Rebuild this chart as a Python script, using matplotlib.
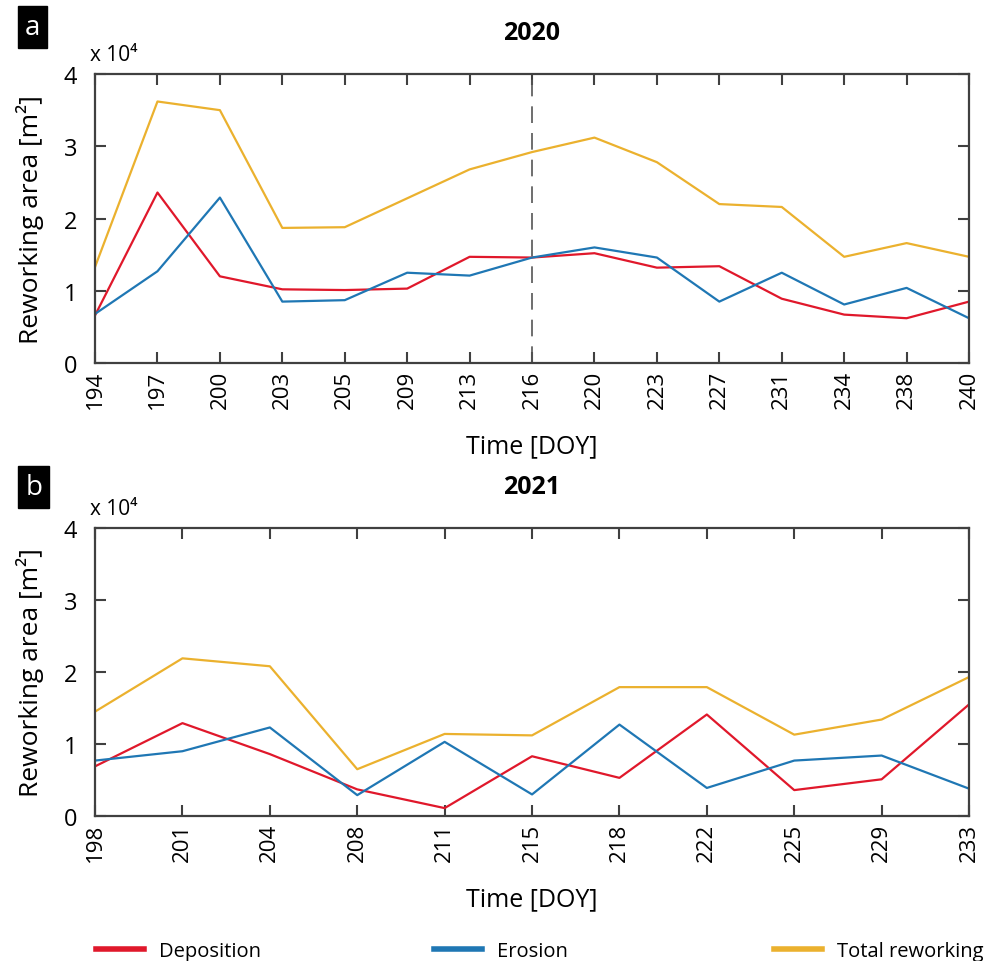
import numpy as np
import matplotlib
matplotlib.use("Agg")
import matplotlib.pyplot as plt
from matplotlib.lines import Line2D

plt.rcParams['font.family'] = ['Open Sans', 'DejaVu Sans']

# 2020 data (x 10^4 m^2)
doy20 = ['194', '197', '200', '203', '205', '209', '213', '216', '220', '223', '227', '231', '234', '238', '240']
dep20 = [0.66, 2.36, 1.20, 1.02, 1.01, 1.03, 1.47, 1.46, 1.52, 1.32, 1.34, 0.89, 0.67, 0.62, 0.85]
ero20 = [0.68, 1.27, 2.29, 0.85, 0.87, 1.25, 1.21, 1.46, 1.60, 1.46, 0.85, 1.25, 0.81, 1.04, 0.62]
tot20 = [1.33, 3.62, 3.50, 1.87, 1.88, 2.28, 2.68, 2.92, 3.12, 2.78, 2.20, 2.16, 1.47, 1.66, 1.47]

# 2021 data
doy21 = ['198', '201', '204', '208', '211', '215', '218', '222', '225', '229', '233']
dep21 = [0.69, 1.29, 0.86, 0.37, 0.11, 0.83, 0.53, 1.41, 0.36, 0.51, 1.55]
ero21 = [0.77, 0.90, 1.23, 0.29, 1.03, 0.30, 1.27, 0.39, 0.77, 0.84, 0.38]
tot21 = [1.45, 2.19, 2.08, 0.65, 1.14, 1.12, 1.79, 1.79, 1.13, 1.34, 1.93]

names = ['Deposition', 'Erosion', 'Total reworking']
c_dep = '#e0182b'
c_ero = '#1f77b4'
c_tot = '#ebb12e'
edge = '#404040'

fig = plt.figure(figsize=(9.88, 9.62), dpi=100)
ax1 = fig.add_axes((0.0962, 0.6216, 0.8846, 0.3004))
ax2 = fig.add_axes((0.0962, 0.1507, 0.8846, 0.2994))

def panel(ax, doy, dep, ero, tot, title, letter, ly):
    x = np.arange(len(doy))
    ax.plot(x, dep, color=c_dep, lw=1.6)
    ax.plot(x, ero, color=c_ero, lw=1.6)
    ax.plot(x, tot, color=c_tot, lw=1.6)
    ax.set_xlim(0, len(doy) - 1)
    ax.set_ylim(0, 4)
    ax.set_xticks(x)
    ax.set_xticklabels(doy, rotation=90, fontsize=16)
    ax.set_yticks([0, 1, 2, 3, 4])
    ax.set_yticklabels(['0', '1', '2', '3', '4'], fontsize=17)
    ax.tick_params(direction='in', length=8, width=1.5, color=edge,
                   top=True, right=True)
    ax.tick_params(axis='y', pad=13)
    ax.tick_params(axis='x', pad=5)
    for s in ax.spines.values():
        s.set_color(edge)
        s.set_linewidth(1.6)
    ax.set_xlabel('Time [DOY]', fontsize=18, labelpad=18)
    ax.set_ylabel('Reworking area [m²]', fontsize=19, labelpad=14)
    ax.set_title(title, fontsize=18, fontweight='bold', pad=25)
    ax.text(-0.006, 1.03, 'x 10⁴', transform=ax.transAxes, fontsize=15,
            ha='left', va='bottom')
    ax.text(-0.08, ly, letter, transform=ax.transAxes, fontsize=20,
            color='white', ha='left', va='bottom',
            bbox=dict(boxstyle='square,pad=0.25', fc='black', ec='black'))
    return x

x1 = panel(ax1, doy20, dep20, ero20, tot20, '2020', 'a', 1.115)
ax1.axvline(x1[doy20.index('216')], color='#555555', lw=1.2, ls=(0, (10, 6)))
panel(ax2, doy21, dep21, ero21, tot21, '2021', 'b', 1.095)

colors = [c_dep, c_ero, c_tot]
xpos = [0.097, 0.439, 0.783]
for name, col, xp in zip(names, colors, xpos):
    fig.legend([Line2D([], [], color=col, lw=4)], [name],
               loc='center left', bbox_to_anchor=(xp, 0.01),
               frameon=False, fontsize=14.5, handlelength=2.4,
               handletextpad=0.75, borderpad=0, borderaxespad=0)

fig.savefig('out.png', dpi=100)
